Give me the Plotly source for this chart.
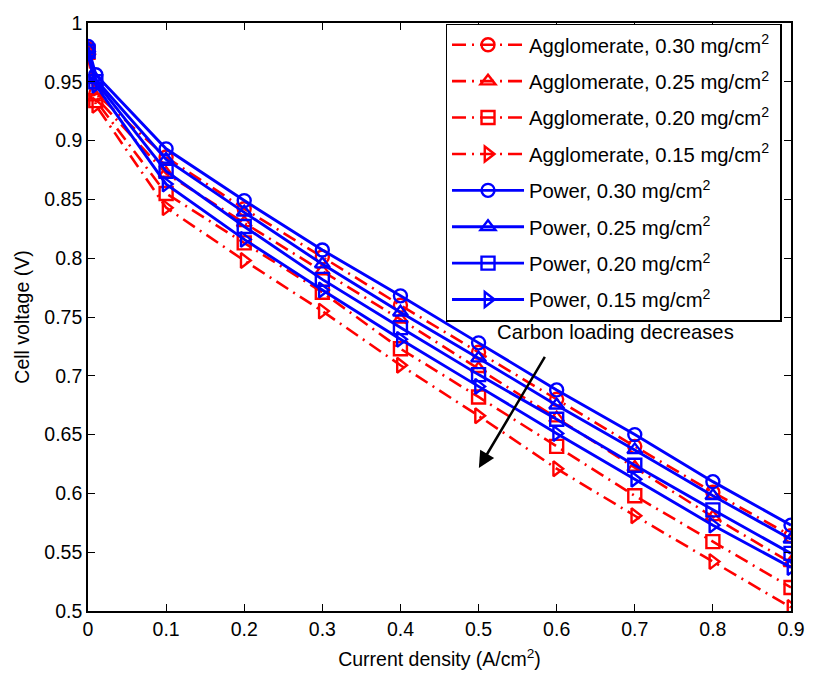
import plotly.graph_objects as go

current = [0, 0.01, 0.1, 0.2, 0.3, 0.4, 0.5, 0.6, 0.7, 0.8, 0.9]

agg_030 = [0.978, 0.940, 0.886, 0.842, 0.801, 0.760, 0.720, 0.680, 0.640, 0.601, 0.564]
agg_025 = [0.976, 0.937, 0.872, 0.830, 0.789, 0.748, 0.706, 0.664, 0.622, 0.580, 0.541]
agg_020 = [0.975, 0.934, 0.855, 0.813, 0.771, 0.723, 0.682, 0.640, 0.598, 0.559, 0.520]
agg_015 = [0.973, 0.930, 0.843, 0.798, 0.755, 0.709, 0.666, 0.621, 0.581, 0.542, 0.503]

pow_030 = [0.980, 0.956, 0.893, 0.849, 0.807, 0.768, 0.728, 0.688, 0.650, 0.610, 0.573]
pow_025 = [0.978, 0.952, 0.884, 0.839, 0.795, 0.754, 0.715, 0.675, 0.637, 0.598, 0.561]
pow_020 = [0.976, 0.950, 0.874, 0.827, 0.782, 0.741, 0.701, 0.663, 0.624, 0.586, 0.549]
pow_015 = [0.973, 0.947, 0.863, 0.816, 0.773, 0.731, 0.691, 0.651, 0.612, 0.573, 0.537]

agg_series = [agg_030, agg_025, agg_020, agg_015]
pow_series = [pow_030, pow_025, pow_020, pow_015]
loadings = ["0.30", "0.25", "0.20", "0.15"]
symbols = ["circle-open", "triangle-up-open", "square-open", "triangle-right-open"]

x_ticks = [0, 0.1, 0.2, 0.3, 0.4, 0.5, 0.6, 0.7, 0.8, 0.9]
y_ticks = [0.5, 0.55, 0.6, 0.65, 0.7, 0.75, 0.8, 0.85, 0.9, 0.95, 1]

FONT = "Liberation Sans, Arial, Helvetica, sans-serif"
FS = 19.5
FS_LEG = 20.3
PAD = "\u00a0"

fig = go.Figure()
k = 0
for vals, ld, sym in zip(agg_series, loadings, symbols):
    fig.add_trace(go.Scatter(
        x=current, y=vals, mode="lines+markers",
        name=f"Agglomerate, {ld} mg/cm<sup>2</sup>{PAD}",
        legendgroup=f"g{k}",
        line=dict(color="#ff0000", width=2.6, dash="14px,6px,2px,6px"),
        marker=dict(symbol=sym, size=13, color="#ff0000", line=dict(width=2.4, color="#ff0000")),
    ))
    k += 1
for vals, ld, sym in zip(pow_series, loadings, symbols):
    fig.add_trace(go.Scatter(
        x=current, y=vals, mode="lines+markers",
        name=f"Power, {ld} mg/cm<sup>2</sup>",
        legendgroup=f"g{k}",
        line=dict(color="#0000ff", width=2.9),
        marker=dict(symbol=sym, size=13, color="#0000ff", line=dict(width=2.4, color="#0000ff")),
    ))
    k += 1

axis_common = dict(
    showgrid=False, zeroline=False, showline=True, linecolor="black", linewidth=1.6,
    mirror="ticks", ticks="inside", ticklen=7, tickwidth=1.2, tickcolor="black",
    tickfont=dict(family=FONT, size=FS, color="black"),
)

fig.update_layout(
    width=817, height=679,
    margin=dict(l=88, r=15, t=12, b=66),
    paper_bgcolor="white", plot_bgcolor="white",
    font=dict(family=FONT, size=FS, color="black"),
    xaxis=dict(range=[0, 0.9], tickvals=x_ticks, ticktext=[f"{v:g}" for v in x_ticks],
               title=dict(text="Current density (A/cm<sup>2</sup>)", standoff=13,
                          font=dict(family=FONT, size=FS)),
               **axis_common),
    yaxis=dict(range=[0.5, 1.0], tickvals=y_ticks, ticktext=[f"{v:g}" for v in y_ticks],
               title=dict(text="Cell voltage (V)", standoff=10,
                          font=dict(family=FONT, size=FS)),
               **axis_common),
    legend=dict(x=0.9865, y=0.999, xanchor="right", yanchor="top",
                bgcolor="white", bordercolor="black", borderwidth=1.5,
                font=dict(family=FONT, size=FS_LEG), tracegroupgap=7, itemwidth=72),
    showlegend=True,
)

fig.add_annotation(x=0.5215, y=0.737, xref="x", yref="y", text="Carbon loading decreases",
                   showarrow=False, xanchor="left", yanchor="middle",
                   font=dict(family=FONT, size=FS_LEG, color="black"))
fig.add_annotation(x=0.5004, y=0.6217, ax=0.586, ay=0.7174, xref="x", yref="y",
                   axref="x", ayref="y", text="", showarrow=True,
                   arrowhead=2, arrowsize=1.3, arrowwidth=2.5, arrowcolor="black")

fig.write_html("out.html")
